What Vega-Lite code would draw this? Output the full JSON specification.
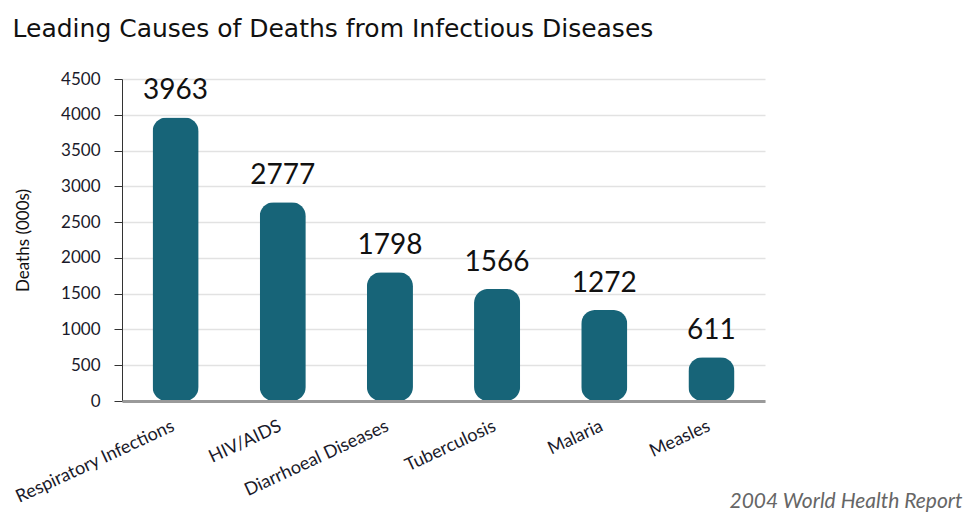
{
  "$schema": "https://vega.github.io/schema/vega-lite/v6.json",
  "width": 643,
  "height": 322,
  "autosize": {"type": "none"},
  "padding": {"left": 122, "top": 79, "right": 200, "bottom": 112},
  "background": "white",
  "title": {
    "text": "Leading Causes of Deaths from Infectious Diseases",
    "anchor": "start",
    "frame": "bounds",
    "font": "DejaVu Sans",
    "fontSize": 25,
    "fontWeight": "normal",
    "color": "#111111",
    "offset": 28,
    "dx": 0
  },
  "data": {
    "values": [
      {"cause": "Respiratory Infections", "deaths": 3963},
      {"cause": "HIV/AIDS", "deaths": 2777},
      {"cause": "Diarrhoeal Diseases", "deaths": 1798},
      {"cause": "Tuberculosis", "deaths": 1566},
      {"cause": "Malaria", "deaths": 1272},
      {"cause": "Measles", "deaths": 611}
    ]
  },
  "encoding": {
    "x": {
      "field": "cause",
      "type": "nominal",
      "sort": null,
      "scale": {"paddingInner": 0.57, "paddingOuter": 0.285},
      "axis": {
        "title": "2004 World Health Report",
        "titleFont": "Lato",
        "titleFontStyle": "italic",
        "titleFontWeight": "normal",
        "titleFontSize": 21,
        "titleColor": "#666666",
        "titleAlign": "right",
        "titleAnchor": null,
        "titleBaseline": "alphabetic",
        "titleX": 840,
        "titleY": 106,
        "labelAngle": -25,
        "labelAlign": "right",
        "labelBaseline": "top",
        "labelFont": "Lato",
        "labelFontSize": 18,
        "labelColor": "#1a1a2a",
        "labelPadding": 16,
        "labelOffset": -6,
        "ticks": false,
        "domainColor": "#9a9a9a",
        "domainWidth": 3,
        "zindex": 1
      }
    },
    "y": {
      "field": "deaths",
      "type": "quantitative",
      "scale": {"domain": [0, 4500], "nice": false},
      "axis": {
        "title": "Deaths (000s)",
        "titleFont": "Lato",
        "titleFontSize": 17,
        "titleFontWeight": "normal",
        "titleColor": "#111111",
        "titlePadding": 28,
        "values": [0, 500, 1000, 1500, 2000, 2500, 3000, 3500, 4000, 4500],
        "format": "d",
        "labelFont": "Lato",
        "labelFontSize": 17,
        "labelColor": "#1a1a2a",
        "labelPadding": 14,
        "tickSize": 8,
        "tickColor": "#333333",
        "domainColor": "#333333",
        "domainWidth": 1,
        "grid": true,
        "gridColor": "#e2e2e2",
        "gridWidth": 1.5
      }
    }
  },
  "layer": [
    {
      "mark": {"type": "bar", "color": "#176478", "cornerRadius": 14}
    },
    {
      "mark": {
        "type": "text",
        "font": "Lato",
        "fontSize": 28,
        "color": "#111111",
        "baseline": "alphabetic",
        "dy": -18
      },
      "encoding": {"text": {"field": "deaths", "type": "quantitative", "format": "d"}}
    }
  ],
  "config": {"view": {"stroke": null}}
}
